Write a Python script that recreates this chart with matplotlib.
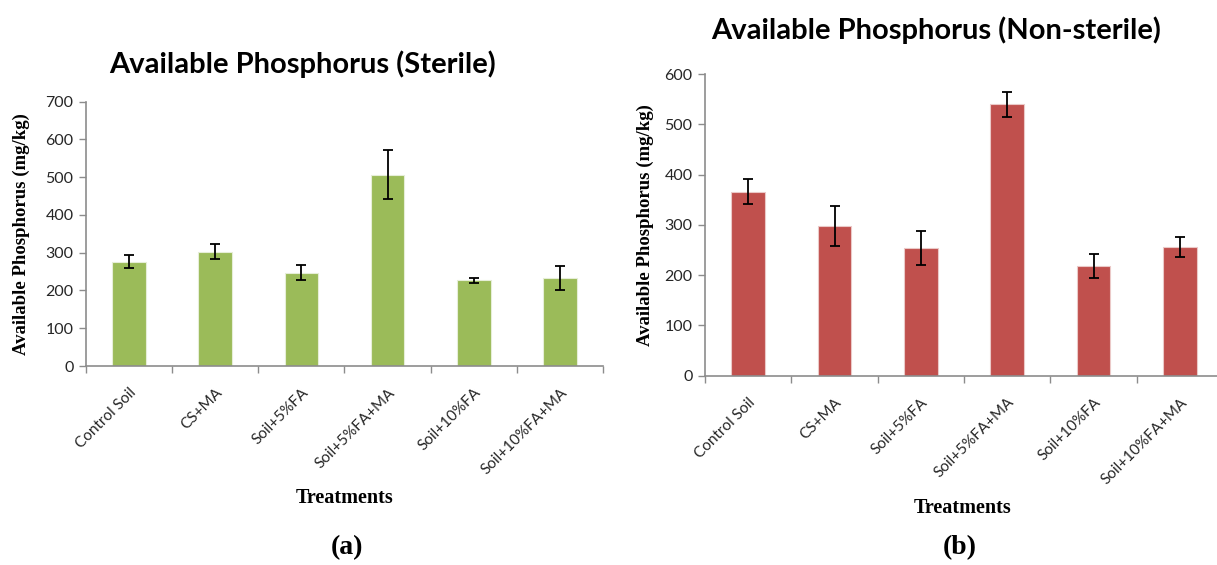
import matplotlib
matplotlib.use("Agg")
import matplotlib.pyplot as plt
import numpy as np

treatments = ["Control Soil", "CS+MA", "Soil+5%FA", "Soil+5%FA+MA",
              "Soil+10%FA", "Soil+10%FA+MA"]

sterile_mean = [276, 303, 247, 506, 227, 233]
sterile_err = [17, 19, 20, 65, 7, 33]

nonsterile_mean = [366, 297, 254, 540, 219, 256]
nonsterile_err = [25, 40, 34, 25, 24, 20]

sterile_ticks = [0, 100, 200, 300, 400, 500, 600, 700]
nonsterile_ticks = [0, 100, 200, 300, 400, 500, 600]

GREEN = "#9BBB59"
RED = "#C0504D"
AXIS_GREY = "#8C8C8C"
LABEL_COL = "#262626"

fig = plt.figure(figsize=(12.17, 5.65), dpi=100)
W, H = 1217, 565


def px_axes(x0, x1, ytop, ybot):
    return fig.add_axes([x0 / W, 1 - ybot / H, (x1 - x0) / W, (ybot - ytop) / H])


def draw_panel(ax, means, errs, color, yticks):
    x = np.arange(len(treatments))
    ax.bar(x, means, width=0.39, color=color,
           edgecolor="#E6EED8" if color == GREEN else "#EBC9C8",
           linewidth=0.8, zorder=2)
    ax.errorbar(x, means, yerr=errs, fmt="none", ecolor="black", elinewidth=1.3,
                capsize=3.6, capthick=1.3, zorder=3)
    ax.set_xlim(-0.5, len(treatments) - 0.5)
    ax.set_ylim(yticks[0], yticks[-1])
    ax.set_yticks(yticks)
    ax.set_yticklabels([str(t) for t in yticks], family="Lato", fontsize=11.5,
                       color=LABEL_COL)
    ax.set_xticks(x)
    ax.set_xticklabels(treatments, rotation=45, ha="right", va="top",
                       rotation_mode="anchor", family="Lato", fontsize=11,
                       color=LABEL_COL)
    ax.set_xticks(np.arange(-0.5, len(treatments)), minor=True)
    ax.tick_params(axis="x", which="major", length=0, pad=14)
    ax.tick_params(axis="x", which="minor", length=5, width=1, color=AXIS_GREY,
                   direction="out")
    ax.tick_params(axis="y", length=5, width=1, color=AXIS_GREY, direction="out", pad=4)
    for side in ("top", "right"):
        ax.spines[side].set_visible(False)
    for side in ("left", "bottom"):
        ax.spines[side].set_color(AXIS_GREY)
        ax.spines[side].set_linewidth(1.2)
    ax.set_ylabel("Available Phosphorus (mg/kg)", family="Liberation Serif",
                  fontweight="bold", fontsize=13.5, color="black")


ax1 = px_axes(86, 603, 101.7, 366)
draw_panel(ax1, sterile_mean, sterile_err, GREEN, sterile_ticks)
ax1.yaxis.set_label_coords(-0.108, 0.5)

ax2 = px_axes(705, 1223, 74, 375.7)
draw_panel(ax2, nonsterile_mean, nonsterile_err, RED, nonsterile_ticks)
ax2.yaxis.set_label_coords(-0.098, 0.5)

fig.text(303 / W, 1 - 64 / H, "Available Phosphorus (Sterile)", family="Lato",
         fontweight="bold", fontsize=21, ha="center", va="center")
fig.text(936 / W, 1 - 30 / H, "Available Phosphorus (Non-sterile)", family="Lato",
         fontweight="bold", fontsize=21, ha="center", va="center")

fig.text(345 / W, 1 - 498 / H, "Treatments", family="Liberation Serif",
         fontweight="bold", fontsize=14.5, ha="center", va="center")
fig.text(963 / W, 1 - 508 / H, "Treatments", family="Liberation Serif",
         fontweight="bold", fontsize=14.5, ha="center", va="center")

fig.text(347 / W, 1 - 548 / H, "(a)", family="Liberation Serif",
         fontweight="bold", fontsize=20, ha="center", va="center")
fig.text(960 / W, 1 - 548 / H, "(b)", family="Liberation Serif",
         fontweight="bold", fontsize=20, ha="center", va="center")

fig.savefig("out.png", dpi=100)
